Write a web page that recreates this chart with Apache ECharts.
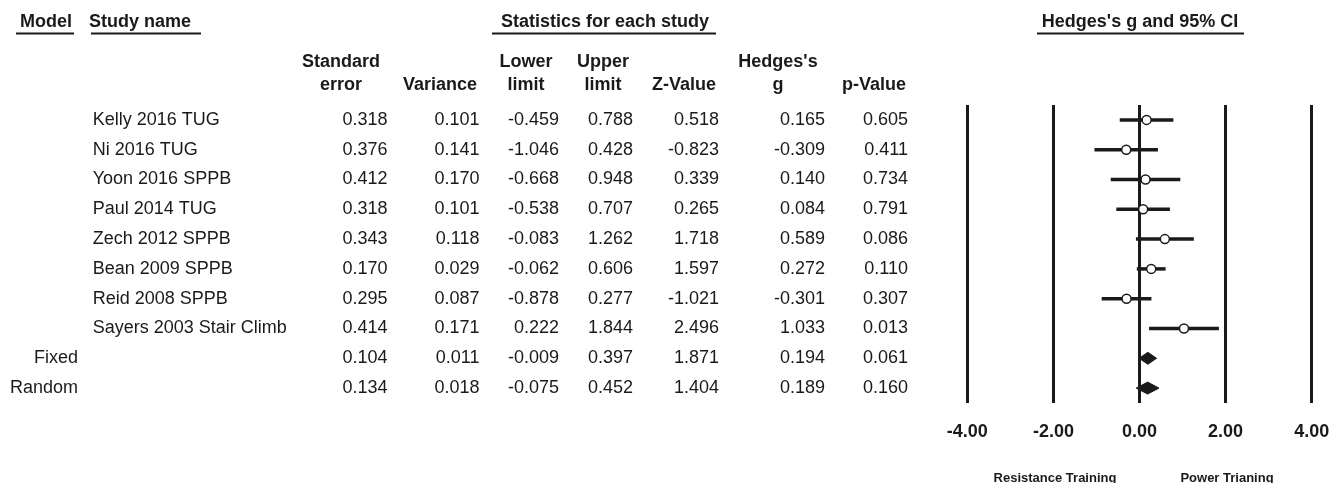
<!DOCTYPE html>
<html><head><meta charset="utf-8">
<script src="https://cdn.jsdelivr.net/npm/echarts@6/dist/echarts.min.js"></script>
<style>html,body{margin:0;padding:0;background:#fff}#c{width:1343px;height:483px}</style>
</head><body><div id="c"></div><script>
// ---- data ----
const studyNames = ['Kelly 2016 TUG','Ni 2016 TUG','Yoon 2016 SPPB','Paul 2014 TUG','Zech 2012 SPPB','Bean 2009 SPPB','Reid 2008 SPPB','Sayers 2003 Stair Climb','',''];
const modelNames = ['','','','','','','','','Fixed','Random'];
const stdError   = [0.318,0.376,0.412,0.318,0.343,0.170,0.295,0.414,0.104,0.134];
const variance   = [0.101,0.141,0.170,0.101,0.118,0.029,0.087,0.171,0.011,0.018];
const lowerLimit = [-0.459,-1.046,-0.668,-0.538,-0.083,-0.062,-0.878,0.222,-0.009,-0.075];
const upperLimit = [0.788,0.428,0.948,0.707,1.262,0.606,0.277,1.844,0.397,0.452];
const zValue     = [0.518,-0.823,0.339,0.265,1.718,1.597,-1.021,2.496,1.871,1.404];
const hedgesG    = [0.165,-0.309,0.140,0.084,0.589,0.272,-0.301,1.033,0.194,0.189];
const pValue     = [0.605,0.411,0.734,0.791,0.086,0.110,0.307,0.013,0.061,0.160];
const rowIsSummary = [false,false,false,false,false,false,false,false,true,true];
const xTicks = [-4,-2,0,2,4];

// ---- layout ----
const FONT = "'Liberation Sans', Arial, sans-serif";
const INK = '#1a1a1a';
const gridLeft = 967.3, gridRight = 31.3, gridTop = 105, gridBottom = 80;
const rowKeys = studyNames.map((_, i) => 'r' + i);

const columns = [
  {fmt: i => modelNames[i], x: 78, align: 'right'},
  {fmt: i => studyNames[i], x: 92.7, align: 'left'},
  {fmt: i => stdError[i].toFixed(3), x: 387.5, align: 'right'},
  {fmt: i => variance[i].toFixed(3), x: 479.5, align: 'right'},
  {fmt: i => lowerLimit[i].toFixed(3), x: 559, align: 'right'},
  {fmt: i => upperLimit[i].toFixed(3), x: 633, align: 'right'},
  {fmt: i => zValue[i].toFixed(3), x: 719, align: 'right'},
  {fmt: i => hedgesG[i].toFixed(3), x: 825, align: 'right'},
  {fmt: i => pValue[i].toFixed(3), x: 908, align: 'right'}
];

const yAxes = [{
  type: 'category', data: rowKeys, inverse: true, show: false
}].concat(columns.map(c => ({
  type: 'category', data: rowKeys, inverse: true, position: 'left',
  offset: gridLeft - c.x,
  axisLine: {show: false}, axisTick: {show: false}, splitLine: {show: false},
  axisLabel: {show: true, interval: 0, margin: 0, align: c.align,
    formatter: (v, i) => c.fmt(i), color: INK, fontSize: 18, fontFamily: FONT}
})));

const studyData = [], summaryData = [];
for (let i = 0; i < rowKeys.length; i++) {
  const d = [i, lowerLimit[i], upperLimit[i], hedgesG[i]];
  (rowIsSummary[i] ? summaryData : studyData).push(d);
}

const headerBold = {fontSize: 18, fontWeight: 'bold', fontFamily: FONT, fill: INK};
function htext(x, y, text, extra) {
  return {type: 'text', x: x, y: y, style: Object.assign({text: text, align: 'center', verticalAlign: 'middle', lineHeight: 23}, headerBold, extra || {})};
}
function uline(x1, x2, y) {
  return {type: 'line', shape: {x1: x1, y1: y, x2: x2, y2: y}, style: {stroke: INK, lineWidth: 2}};
}
const graphics = [
  htext(46, 22, 'Model'), uline(16, 74, 33.5),
  htext(140, 22, 'Study name'), uline(91, 201, 33.5),
  htext(605, 22, 'Statistics for each study'), uline(492, 716, 33.5),
  htext(1140, 22, "Hedges's g and 95% CI"), uline(1037, 1244, 33.5),
  htext(341, 73.5, 'Standard\nerror'),
  htext(440, 85, 'Variance'),
  htext(526, 73.5, 'Lower\nlimit'),
  htext(603, 73.5, 'Upper\nlimit'),
  htext(684, 85, 'Z-Value'),
  htext(778, 73.5, "Hedges's\ng"),
  htext(874, 85, 'p-Value'),
  htext(1055, 478, 'Resistance Training', {fontSize: 13}),
  htext(1227, 478, 'Power Trianing', {fontSize: 13})
];

const option = {
  animation: false,
  backgroundColor: '#fff',
  grid: {left: gridLeft, right: gridRight, top: gridTop, bottom: gridBottom, containLabel: false},
  xAxis: {
    type: 'value', min: xTicks[0], max: xTicks[xTicks.length - 1], interval: 2,
    axisLine: {show: false}, axisTick: {show: false},
    splitLine: {show: true, lineStyle: {color: INK, width: 3, type: 'solid'}},
    axisLabel: {margin: 20, color: INK, fontSize: 18, fontWeight: 'bold', fontFamily: FONT,
      formatter: v => v.toFixed(2)}
  },
  yAxis: yAxes,
  series: [
    {
      type: 'custom', yAxisIndex: 0, data: studyData, z: 5,
      renderItem: function (params, api) {
        const row = api.value(0);
        const pLo = api.coord([api.value(1), row]);
        const pHi = api.coord([api.value(2), row]);
        const pG = api.coord([api.value(3), row]);
        return {type: 'group', children: [
          {type: 'line', shape: {x1: pLo[0], y1: pLo[1], x2: pHi[0], y2: pHi[1]}, style: {stroke: INK, lineWidth: 3.5}},
          {type: 'circle', shape: {cx: pG[0], cy: pG[1], r: 4.5}, style: {fill: '#fff', stroke: INK, lineWidth: 1.5}}
        ]};
      }
    },
    {
      type: 'custom', yAxisIndex: 0, data: summaryData, z: 5,
      renderItem: function (params, api) {
        const row = api.value(0);
        const pLo = api.coord([api.value(1), row]);
        const pHi = api.coord([api.value(2), row]);
        const pG = api.coord([api.value(3), row]);
        const h = 6;
        return {type: 'polygon', shape: {points: [[pLo[0], pLo[1]], [pG[0], pG[1] - h], [pHi[0], pHi[1]], [pG[0], pG[1] + h]]},
          style: {fill: INK, stroke: INK, lineWidth: 1}};
      }
    }
  ],
  graphic: graphics
};
const chart = echarts.init(document.getElementById('c'), null, {renderer: 'canvas'});
chart.setOption(option);
</script></body></html>
